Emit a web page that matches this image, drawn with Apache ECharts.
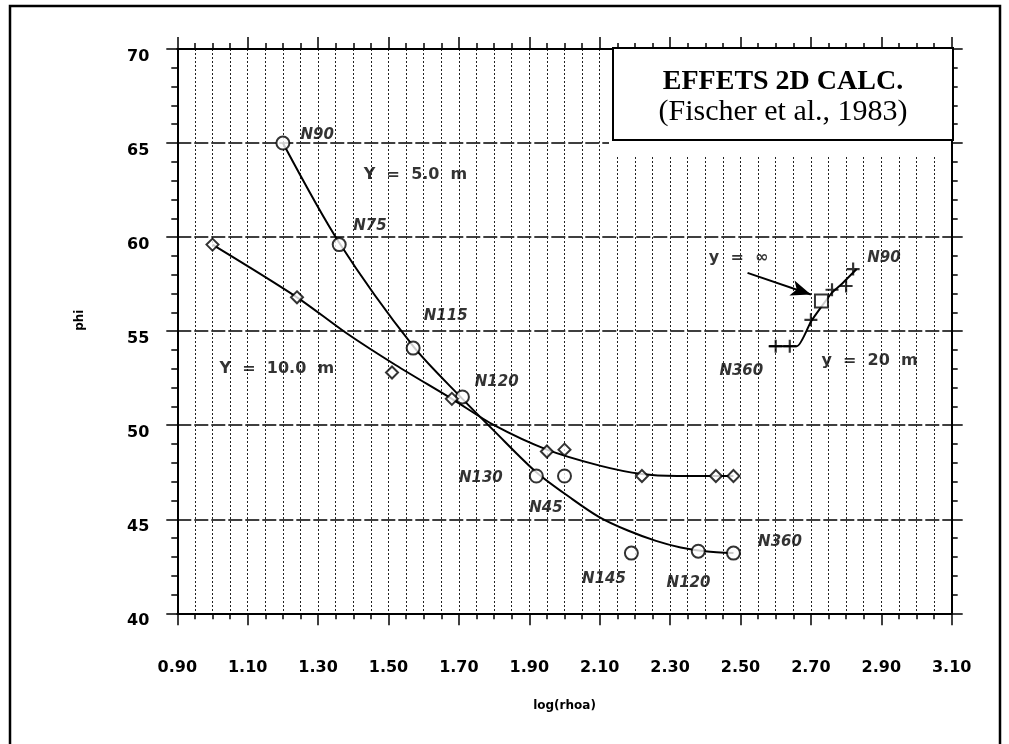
<!DOCTYPE html>
<html>
<head>
<meta charset="utf-8">
<script src="https://cdn.jsdelivr.net/npm/echarts@6/dist/echarts.min.js"></script>
<style>
  html, body { margin: 0; padding: 0; background: #fff; }
  #chart { width: 1009px; height: 744px; }
</style>
</head>
<body>
<div id="chart"></div>
<script>
// Axis tick labels
const xTickLabels = ['0.90', '1.10', '1.30', '1.50', '1.70', '1.90', '2.10', '2.30', '2.50', '2.70', '2.90', '3.10'];
const yTickLabels = ['40', '45', '50', '55', '60', '65', '70'];

// Y = 5.0 m : computed points (open circles) and the fitted curve
const y5Points = [[1.20, 65.0], [1.36, 59.6], [1.57, 54.1], [1.71, 51.5], [1.92, 47.3], [2.00, 47.3], [2.19, 43.2], [2.38, 43.3], [2.48, 43.2]];
const y5Curve = [[1.20, 65.0], [1.36, 59.7], [1.57, 54.2], [1.71, 51.4], [1.80, 49.7], [1.92, 47.5], [2.02, 46.1], [2.10, 45.1], [2.18, 44.4], [2.26, 43.85], [2.33, 43.5], [2.40, 43.3], [2.48, 43.2]];

// Y = 10.0 m : computed points (open diamonds) and the fitted curve
const y10Points = [[1.00, 59.6], [1.24, 56.8], [1.51, 52.8], [1.68, 51.4], [1.95, 48.6], [2.00, 48.7], [2.22, 47.3], [2.43, 47.3], [2.48, 47.3]];
const y10Curve = [[1.00, 59.6], [1.24, 56.8], [1.38, 54.9], [1.52, 53.2], [1.68, 51.4], [1.80, 50.0], [1.95, 48.7], [2.10, 47.85], [2.22, 47.4], [2.32, 47.3], [2.48, 47.3]];

// y = 20 m : computed points (crosses) and the joining line
const y20Points = [[2.60, 54.2], [2.64, 54.2], [2.70, 55.6], [2.76, 57.2], [2.80, 57.4], [2.82, 58.3]];
const y20Curve = [[2.58, 54.2], [2.66, 54.2], [2.70, 55.5], [2.73, 56.3], [2.76, 57.05], [2.79, 57.55], [2.83, 58.3]];

// y = infinity : single point (open square) and its pointer
const yInfPoint = [[2.73, 56.6]];
const yInfArrow = [[2.52, 58.1], [2.70, 56.95]];

// Azimuth tags next to the points
const pointTags = [
  [1.25, 65.4, 'N90'], [1.40, 60.6, 'N75'], [1.60, 55.8, 'N115'], [1.745, 52.3, 'N120'],
  [1.70, 47.2, 'N130'], [1.90, 45.6, 'N45'], [2.05, 41.8, 'N145'], [2.29, 41.6, 'N120'],
  [2.55, 43.8, 'N360'], [2.86, 58.9, 'N90'], [2.44, 52.9, 'N360']
];

// Curve tags
const curveTags = [
  [1.43, 63.3, 'Y  =  5.0  m'], [1.02, 53.0, 'Y  =  10.0  m'],
  [2.41, 58.9, 'y  =  ∞'], [2.73, 53.4, 'y  =  20  m']
];

const SANS = '"DejaVu Sans", sans-serif';
const SERIF = '"Liberation Serif", "Times New Roman", serif';
const INK = '#000';

const plusPath = 'path://M5,0 L7,0 L7,5 L12,5 L12,7 L7,7 L7,12 L5,12 L5,7 L0,7 L0,5 L5,5 Z';

const chart = echarts.init(document.getElementById('chart'), null, { renderer: 'canvas' });

const baseX = {
  type: 'value', min: 0.9, max: 3.1, interval: 0.2,
  axisLine: { onZero: false, lineStyle: { color: INK, width: 2 } },
  axisTick: { show: true, inside: false, length: 12, lineStyle: { color: INK, width: 1.5 } },
  minorTick: { show: true, splitNumber: 4, length: 6, lineStyle: { color: INK, width: 1.5 } }
};
const baseY = {
  type: 'value', min: 40, max: 70, interval: 5,
  axisLine: { onZero: false, lineStyle: { color: INK, width: 2 } },
  axisTick: { show: true, inside: false, length: 11, lineStyle: { color: INK, width: 1.5 } },
  minorTick: { show: true, splitNumber: 5, length: 6, lineStyle: { color: INK, width: 1.5 } }
};

const tagLabel = (size, italic) => ({
  show: true, position: 'right', distance: 0,
  formatter: p => p.data[2],
  fontFamily: SANS, fontSize: size, fontWeight: 'bold', fontStyle: italic ? 'italic' : 'normal', color: INK
});

chart.setOption({
  animation: false,
  backgroundColor: '#fff',
  grid: { left: 177.3, right: 57.3, top: 49, bottom: 130.7, containLabel: false },
  xAxis: [
    Object.assign({}, baseX, {
      position: 'bottom',
      name: 'log(rhoa)', nameLocation: 'middle', nameGap: 87,
      nameTextStyle: { fontFamily: SANS, fontSize: 12, fontWeight: 'bold', color: INK },
      axisLabel: {
        margin: 47, fontFamily: SANS, fontSize: 16, fontWeight: 'bold', color: INK,
        formatter: (v, i) => xTickLabels[i]
      },
      splitLine: { show: true, lineStyle: { color: '#222', width: 1, type: [2, 2] } },
      minorSplitLine: { show: true, lineStyle: { color: '#222', width: 1, type: [2, 2] } }
    }),
    Object.assign({}, baseX, {
      position: 'top', axisLabel: { show: false },
      splitLine: { show: false }, minorSplitLine: { show: false }
    })
  ],
  yAxis: [
    Object.assign({}, baseY, {
      position: 'left',
      name: 'phi', nameLocation: 'middle', nameGap: 91,
      nameTextStyle: { fontFamily: SANS, fontSize: 12, fontWeight: 'bold', color: INK, padding: [0, 0, 0, 22] },
      axisLabel: {
        margin: 28, verticalAlign: 'top', fontFamily: SANS, fontSize: 16, fontWeight: 'bold', color: INK,
        formatter: (v, i) => yTickLabels[i]
      },
      splitLine: { show: true, lineStyle: { color: '#000', width: 1.5, type: [14, 3] } },
      minorSplitLine: { show: false }
    }),
    Object.assign({}, baseY, {
      position: 'right', axisLabel: { show: false },
      splitLine: { show: false }, minorSplitLine: { show: false }
    })
  ],
  series: [
    {
      name: 'Y = 5.0 m curve', type: 'line', data: y5Curve, smooth: 0.3, showSymbol: false, symbol: 'none',
      lineStyle: { color: INK, width: 2 }, silent: true, z: 3
    },
    {
      name: 'Y = 10.0 m curve', type: 'line', data: y10Curve, smooth: 0.3, showSymbol: false, symbol: 'none',
      lineStyle: { color: INK, width: 2 }, silent: true, z: 3
    },
    {
      name: 'y = 20 m curve', type: 'line', data: y20Curve, smooth: 0.2, showSymbol: false, symbol: 'none',
      lineStyle: { color: INK, width: 2 }, silent: true, z: 3,
      markLine: {
        silent: true, symbol: ['none', 'arrow'], symbolSize: [12, 20],
        label: { show: false },
        lineStyle: { color: INK, width: 2, type: 'solid' },
        data: [[{ coord: yInfArrow[0] }, { coord: yInfArrow[1] }]]
      }
    },
    {
      name: 'Y = 5.0 m', type: 'scatter', data: y5Points, symbol: 'circle', symbolSize: 13,
      itemStyle: { color: '#fff', borderColor: INK, borderWidth: 2 }, silent: true, z: 4
    },
    {
      name: 'Y = 10.0 m', type: 'scatter', data: y10Points, symbol: 'diamond', symbolSize: 12,
      itemStyle: { color: '#fff', borderColor: INK, borderWidth: 2 }, silent: true, z: 4
    },
    {
      name: 'y = 20 m', type: 'scatter', data: y20Points, symbol: plusPath, symbolSize: 13,
      itemStyle: { color: INK }, silent: true, z: 4
    },
    {
      name: 'y = ∞', type: 'scatter', data: yInfPoint, symbol: 'rect', symbolSize: 13,
      itemStyle: { color: '#fff', borderColor: INK, borderWidth: 2 }, silent: true, z: 4
    },
    {
      name: 'azimuth tags', type: 'scatter', data: pointTags, symbolSize: 0, silent: true, z: 5,
      label: tagLabel(15, true)
    },
    {
      name: 'curve tags', type: 'scatter', data: curveTags, symbolSize: 0, silent: true, z: 5,
      label: tagLabel(16, false)
    }
  ],
  graphic: [
    { type: 'rect', z: 20, silent: true, shape: { x: 10, y: 6, width: 990, height: 780 },
      style: { fill: null, stroke: INK, lineWidth: 2.5 } },
    { type: 'rect', z: 20, silent: true, shape: { x: 609, y: 50, width: 342, height: 106 },
      style: { fill: '#fff', stroke: null } },
    { type: 'rect', z: 21, silent: true, shape: { x: 613, y: 48, width: 340, height: 92 },
      style: { fill: '#fff', stroke: INK, lineWidth: 2 } },
    { type: 'text', z: 22, silent: true, x: 783, y: 82,
      style: { text: 'EFFETS 2D CALC.', fill: INK, font: 'bold 28px ' + SERIF, align: 'center', verticalAlign: 'middle' } },
    { type: 'text', z: 22, silent: true, x: 783, y: 112,
      style: { text: '(Fischer et al., 1983)', fill: INK, font: '30px ' + SERIF, align: 'center', verticalAlign: 'middle' } }
  ]
});
</script>
</body>
</html>
